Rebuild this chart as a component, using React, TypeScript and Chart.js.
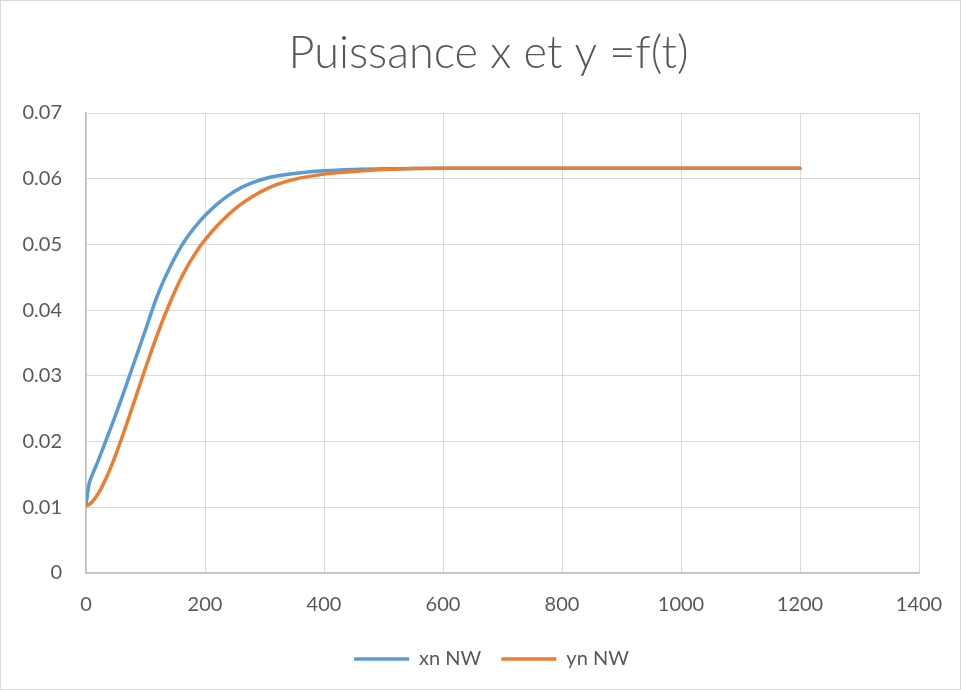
import React, { useEffect, useRef } from "react";
import { Chart, registerables } from "chart.js";

Chart.register(...registerables);

const TITLE = "Puissance x et y =f(t)";
const SERIES_NAMES = ["xn NW", "yn NW"];

const tValues = [
  0, 5, 10, 20, 30, 40, 50, 60, 70, 80, 90, 100, 110, 120, 130, 140, 150, 160, 170, 180, 190, 200,
  220, 240, 260, 280, 300, 320, 350, 400, 450, 500, 600, 700, 800, 900, 1000, 1100, 1200,
];

const xnValues = [
  0.0103, 0.0135, 0.0148, 0.017, 0.0193, 0.0217, 0.0241, 0.0266, 0.0292, 0.0318, 0.0344, 0.037,
  0.0397, 0.0422, 0.0444, 0.0463, 0.0481, 0.0497, 0.0511, 0.0523, 0.0534, 0.0544,
  0.0561, 0.0575, 0.0586, 0.0594, 0.06, 0.0604, 0.0608, 0.0612, 0.0614, 0.0615, 0.0616, 0.0616,
  0.0616, 0.0616, 0.0616, 0.0616, 0.0616,
];

const ynValues = [
  0.0102, 0.0104, 0.0108, 0.012, 0.0137, 0.0157, 0.018, 0.0205, 0.0231, 0.0258, 0.0285, 0.0312,
  0.0338, 0.0363, 0.0387, 0.0409, 0.043, 0.0449, 0.0466, 0.0481, 0.0495, 0.0507,
  0.0528, 0.0546, 0.0561, 0.0573, 0.0583, 0.0591, 0.0599, 0.0607, 0.0611, 0.0614, 0.0616, 0.0616,
  0.0616, 0.0616, 0.0616, 0.0616, 0.0616,
];

const X_MIN = 0;
const X_MAX = 1400;
const X_STEP = 200;
const Y_MIN = 0;
const Y_MAX = 0.07;
const Y_STEP = 0.01;

const COLORS = ["#5B9BD5", "#ED7D31"];
const TEXT = "#595959";
const FONT = "Lato, 'Open Sans', sans-serif";

export default function App() {
  const ref = useRef<HTMLCanvasElement | null>(null);

  useEffect(() => {
    if (!ref.current) return;
    const frame = {
      id: "frame",
      beforeDraw(chart: any) {
        const { ctx, width, height } = chart;
        ctx.save();
        ctx.fillStyle = "#ffffff";
        ctx.fillRect(0, 0, width, height);
        ctx.strokeStyle = "#d9d9d9";
        ctx.lineWidth = 1;
        ctx.strokeRect(0.5, 0.5, width - 1, height - 1);
        ctx.restore();
      },
    };
    // nudge title and legend so they are centred like the reference
    const shift = {
      id: "shift",
      afterLayout(chart: any) {
        const t = chart.titleBlock;
        if (t) {
          t.left -= 14;
          t.right -= 14;
        }
        const l = chart.legend;
        if (l) {
          l.left -= 11;
          l.right -= 11;
        }
      },
    };
    const mk = (vals: number[]) => tValues.map((t, i) => ({ x: t, y: vals[i] }));
    const chart = new Chart(ref.current, {
      type: "line",
      data: {
        datasets: [
          {
            label: SERIES_NAMES[0],
            data: mk(xnValues),
            borderColor: COLORS[0],
            backgroundColor: COLORS[0],
            borderWidth: 3.5,
            pointRadius: 0,
            pointStyle: "line",
            borderCapStyle: "round",
            cubicInterpolationMode: "monotone",
            order: 1,
          },
          {
            label: SERIES_NAMES[1],
            data: mk(ynValues),
            borderColor: COLORS[1],
            backgroundColor: COLORS[1],
            borderWidth: 3.5,
            pointRadius: 0,
            pointStyle: "line",
            borderCapStyle: "round",
            cubicInterpolationMode: "monotone",
            order: 0,
          },
        ],
      },
      options: {
        animation: false,
        responsive: false,
        maintainAspectRatio: false,
        layout: { padding: { left: 0, right: 42, top: 0, bottom: 11 } },
        scales: {
          x: {
            type: "linear",
            min: X_MIN,
            max: X_MAX,
            ticks: {
              stepSize: X_STEP,
              color: TEXT,
              font: { family: FONT, size: 20 },
              padding: 19.5,
              maxRotation: 0,
              callback: (v: any) => String(v),
            },
            grid: { color: "#d9d9d9", lineWidth: 1, drawTicks: false },
            border: { color: "#bfbfbf", width: 1.5 },
            afterFit: (s: any) => {
              s.height = 56;
              s.paddingLeft = 0;
              s.paddingRight = 0;
            },
          },
          y: {
            min: Y_MIN,
            max: Y_MAX,
            ticks: {
              stepSize: Y_STEP,
              color: TEXT,
              font: { family: FONT, size: 20 },
              padding: 24,
              callback: (v: any) => (Number(v) === 0 ? "0" : Number(v).toFixed(2)),
            },
            grid: { color: "#d9d9d9", lineWidth: 1, drawTicks: false },
            border: { color: "#bfbfbf", width: 1.5 },
            afterFit: (s: any) => {
              s.width = 86;
              s.paddingTop = 0;
              s.paddingBottom = 0;
            },
          },
        },
        plugins: {
          title: {
            display: true,
            fullSize: false,
            text: TITLE,
            color: TEXT,
            font: { family: FONT, size: 45, weight: "300" },
            padding: { top: 26, bottom: 33 },
          },
          legend: {
            display: true,
            fullSize: false,
            position: "bottom",
            labels: {
              usePointStyle: true,
              pointStyleWidth: 55,
              padding: 20,
              color: TEXT,
              font: { family: FONT, size: 20 },
              sort: (a: any, b: any) => a.datasetIndex - b.datasetIndex,
            },
          },
          tooltip: { enabled: false },
        },
      },
      plugins: [frame, shift],
    } as any);
    return () => chart.destroy();
  }, []);

  return (
    <div style={{ position: "absolute", left: 0, top: 0, width: 961, height: 690 }}>
      <canvas ref={ref} width={961} height={690} style={{ display: "block" }} />
    </div>
  );
}
